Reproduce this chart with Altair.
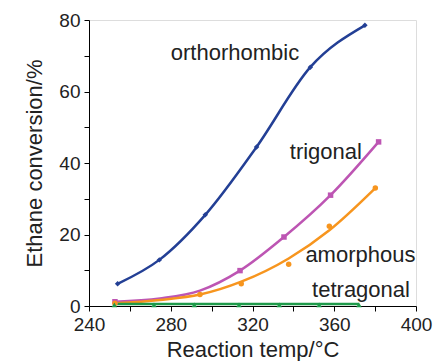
import altair as alt
import pandas as pd

# marker data (temperature in °C, conversion in %)
ortho_t = [254, 274.4, 296.9, 322, 348.3, 375]
ortho_v = [6.2, 12.9, 25.5, 44.5, 66.8, 78.5]

trig_t = [252.7, 313.9, 335.4, 358.2, 381.7]
trig_v = [1.2, 9.9, 19.3, 31.0, 45.9]

amor_t = [252.7, 294.3, 314.5, 337.7, 357.6, 380.1]
amor_v = [0.75, 3.2, 6.2, 11.7, 22.3, 33.0]

tetra_t = [252.4, 271.8, 291.5, 313.4, 333.1, 352.6, 372.1]
tetra_v = [0.3, 0.3, 0.3, 0.3, 0.3, 0.3, 0.3]

# smooth fitted curves
ortho_ct = [254, 274.4, 296.9, 322, 348.3, 375]
ortho_cv = [6.2, 12.9, 25.5, 44.5, 66.8, 78.5]
trig_ct = [252.7, 274.7, 294.3, 313.9, 335.4, 358.2, 381.7]
trig_cv = [1.2, 2.1, 4.3, 9.9, 19.3, 31.0, 45.9]
amor_ct = [252.7, 274.7, 294.3, 314.5, 337.7, 357.6, 380.1]
amor_cv = [0.75, 1.7, 3.2, 6.8, 13.3, 21.2, 33.0]
tetra_ct = [252.4, 372.1]
tetra_cv = [0.55, 0.55]

series = ["orthorhombic", "trigonal", "amorphous", "tetragonal"]
colors = ["#233f95", "#bd55b3", "#f7951e", "#1e9a4a"]

label_t = [311.4, 355.9, 372.8, 373.1]
label_v = [70.8, 43.1, 14.3, 4.5]

def long(name, ts, vs):
    return pd.DataFrame({"series": name, "temp": ts, "conv": vs})

pts = pd.concat([
    long("orthorhombic", ortho_t, ortho_v),
    long("trigonal", trig_t, trig_v),
    long("amorphous", amor_t, amor_v),
    long("tetragonal", tetra_t, tetra_v),
])
curves = pd.concat([
    long("orthorhombic", ortho_ct, ortho_cv),
    long("trigonal", trig_ct, trig_cv),
    long("amorphous", amor_ct, amor_cv),
    long("tetragonal", tetra_ct, tetra_cv),
])
labels = pd.DataFrame({"series": series, "temp": label_t, "conv": label_v})

FONT = "Liberation Sans"
color = alt.Color("series:N", scale=alt.Scale(domain=series, range=colors), legend=None)
shape = alt.Shape("series:N", scale=alt.Scale(domain=series,
                  range=["diamond", "square", "circle", "triangle-up"]), legend=None)

x = alt.X("temp:Q", scale=alt.Scale(domain=[240, 400], nice=False),
          axis=alt.Axis(title="Reaction temp/°C", values=list(range(240, 401, 20)),
                        labelExpr="datum.value % 40 == 0 ? datum.label : ''",
                        grid=False, labelFontSize=19, titleFontSize=22,
                        titleFontWeight="normal", labelColor="#222", titleColor="#222",
                        domainColor="black", tickColor="black", tickSize=5,
                        labelPadding=4, titlePadding=5, labelFlush=False))
y = alt.Y("conv:Q", scale=alt.Scale(domain=[0, 80], nice=False),
          axis=alt.Axis(title="Ethane conversion/%", values=list(range(0, 81, 10)),
                        labelExpr="datum.value % 20 == 0 ? datum.label : ''",
                        grid=False, labelFontSize=19, titleFontSize=22,
                        titleFontWeight="normal", labelColor="#222", titleColor="#222",
                        domainColor="black", tickColor="black", tickSize=5,
                        labelPadding=4, titlePadding=12))

lines = alt.Chart(curves).mark_line(interpolate="monotone", strokeWidth=2.5).encode(
    x=x, y=y, color=color, detail="series:N")
points = alt.Chart(pts).mark_point(filled=True, size=30, opacity=1).encode(
    x=x, y=y, color=color, shape=shape)
text = alt.Chart(labels).mark_text(font=FONT, fontSize=22, color="#222",
                                   baseline="middle", align="center").encode(
    x=x, y=y, text="series:N")

chart = alt.layer(lines, points, text).properties(
    width=327, height=286,
    autosize=alt.AutoSizeParams(type="none"),
    padding={"left": 81, "top": 12, "right": 17, "bottom": 60},
).configure_view(stroke="black", strokeWidth=1.2).configure_axis(
    labelFont=FONT, titleFont=FONT, domainWidth=1.2, tickWidth=1.2
).configure(background="white")

chart.save("out.html", embed_options={"renderer": "svg", "actions": False})
